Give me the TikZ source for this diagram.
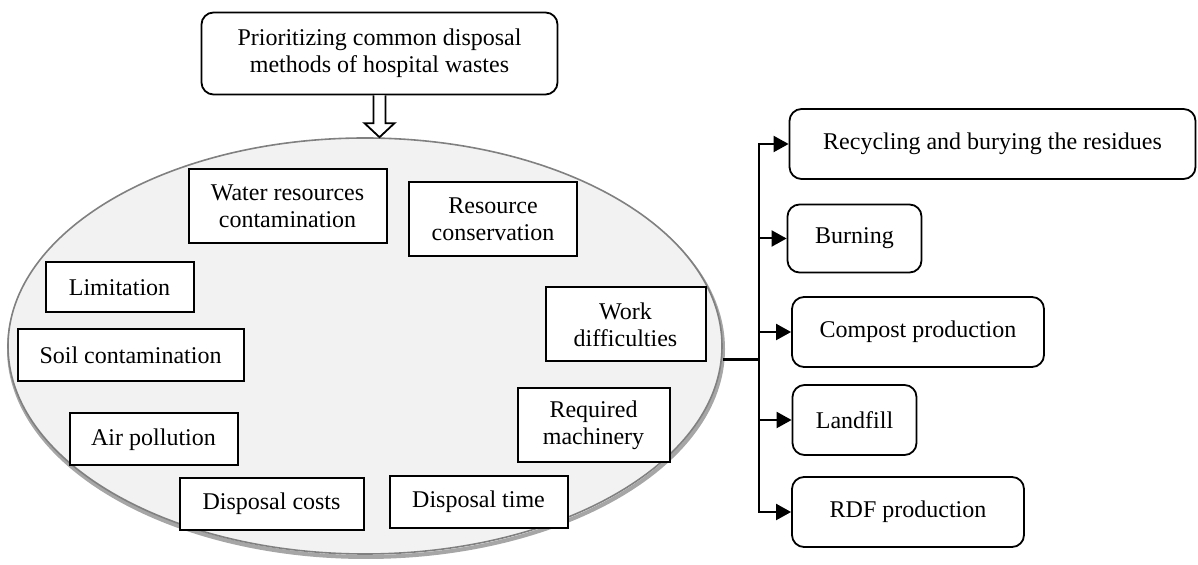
\documentclass[tikz,border=0pt]{standalone}
\usepackage{fontspec}
\setmainfont{Liberation Serif}
\usepackage{tikz}
\usetikzlibrary{shapes.geometric,arrows.meta,calc}
\definecolor{ellfill}{HTML}{F2F2F2}
\definecolor{ellline}{HTML}{808080}
\tikzset{
  txt/.style={font=\fontsize{12}{13.5}\selectfont, align=center, inner sep=0pt},
  critbox/.style={txt, draw, fill=white, rectangle, line width=1pt},
  altbox/.style={txt, draw, rectangle, rounded corners=6pt, line width=0.9pt},
  arr/.style={-{Triangle[length=7.5pt,width=8pt]}, line width=1pt}
}

\begin{document}
\begin{tikzpicture}[x=0.5pt, y=-0.5pt]
\useasboundingbox (0,0) rectangle (1198,565);
% criteria ellipse with its shadow
\node[ellipse, minimum width=357pt, minimum height=208pt, draw=gray!70, line width=2pt] at (366,349) {};
\node[ellipse, minimum width=357pt, minimum height=208pt, draw=ellline, fill=ellfill, line width=0.8pt] (crit) at (365,346) {};
\node[altbox, minimum width=178pt, minimum height=41pt] (goal) at (379.5,53.5) {Prioritizing common disposal\\methods of hospital wastes};
% criteria
\node[critbox, minimum width=99pt, minimum height=37pt] (water) at (287.5,206) {Water resources\\contamination};
\node[critbox, minimum width=84pt, minimum height=37pt] (rescons) at (493,219) {Resource\\conservation};
\node[critbox, minimum width=74pt, minimum height=25pt] (limit) at (119.5,287.5) {Limitation};
\node[critbox, minimum width=113pt, minimum height=26pt] (soil) at (130.5,355.5) {Soil contamination};
\node[critbox, minimum width=80pt, minimum height=37pt] (work) at (625.5,324.5) {Work\\difficulties};
\node[critbox, minimum width=76pt, minimum height=37pt] (mach) at (593.5,425) {Required\\machinery};
\node[critbox, minimum width=84pt, minimum height=26pt] (air) at (153.5,439.5) {Air pollution};
\node[critbox, minimum width=92pt, minimum height=26pt] (cost) at (271.5,504) {Disposal costs};
\node[critbox, minimum width=89pt, minimum height=26pt] (time) at (478.5,502) {Disposal time};
% alternatives
\node[altbox, minimum width=203pt, minimum height=35pt] (recyc) at (992.5,144) {Recycling and burying the residues};
\node[altbox, minimum width=67pt, minimum height=34pt] (burn) at (854.5,238.5) {Burning};
\node[altbox, minimum width=126pt, minimum height=35pt] (compost) at (918,332) {Compost production};
\node[altbox, minimum width=62pt, minimum height=35pt] (landfill) at (854.5,420) {Landfill};
\node[altbox, minimum width=116pt, minimum height=35pt] (rdf) at (908,512) {RDF production};
% open arrow from goal to criteria
\coordinate (tip) at (goal.south |- crit.north);
\draw[line width=0.9pt, fill=white] ([xshift=-3pt]goal.south) -- ([xshift=-3pt,yshift=7pt]tip) -- ([xshift=-7.5pt,yshift=7pt]tip) -- (tip) -- ([xshift=7.5pt,yshift=7pt]tip) -- ([xshift=3pt,yshift=7pt]tip) -- ([xshift=3pt]goal.south);
% connectors to alternatives
\coordinate (bus) at (759,360);
\draw[line width=1.5pt] (crit.east |- bus) -- (bus);
\draw[arr] (bus) |- (recyc.west);
\draw[arr] (bus) |- (rdf.west);
\foreach \alt in {burn,compost,landfill}
  \draw[arr] (bus |- \alt.west) -- (\alt.west);
\end{tikzpicture}
\end{document}
